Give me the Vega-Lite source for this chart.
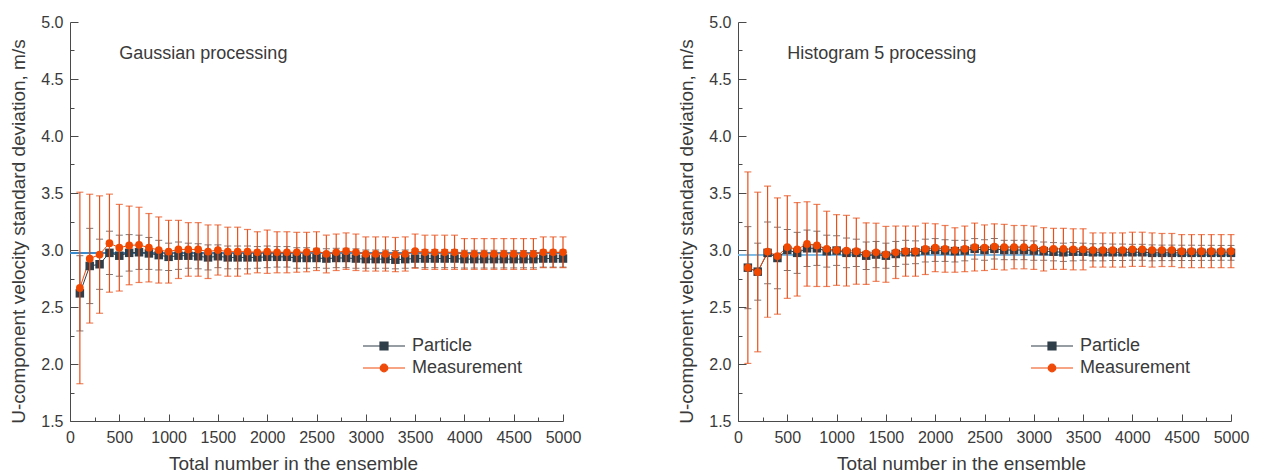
{
  "$schema": "https://vega.github.io/schema/vega-lite/v6.json",
  "background": "white",
  "padding": {"left": 9, "top": 14, "right": 5, "bottom": 0},
  "config": {
    "view": {"stroke": null},
    "font": "Liberation Sans",
    "axis": {
      "labelFont": "Liberation Sans", "titleFont": "Liberation Sans",
      "labelFontSize": 16, "titleFontSize": 19, "titleFontWeight": "normal",
      "labelColor": "#3a3a3a", "titleColor": "#3a3a3a",
      "domainColor": "#4a4a4a", "tickColor": "#4a4a4a", "grid": false,
      "labelFlush": false, "labelOverlap": false
    }
  },
  "data": {"values": [
    {"p":"G","s":"Particle","n":100,"v":2.62,"e":0.33},
    {"p":"G","s":"Particle","n":200,"v":2.86,"e":0.33},
    {"p":"G","s":"Particle","n":300,"v":2.875,"e":0.22},
    {"p":"G","s":"Particle","n":400,"v":2.975,"e":0.19},
    {"p":"G","s":"Particle","n":500,"v":2.95,"e":0.18},
    {"p":"G","s":"Particle","n":600,"v":2.975,"e":0.16},
    {"p":"G","s":"Particle","n":700,"v":2.98,"e":0.15},
    {"p":"G","s":"Particle","n":800,"v":2.97,"e":0.14},
    {"p":"G","s":"Particle","n":900,"v":2.955,"e":0.13},
    {"p":"G","s":"Particle","n":1000,"v":2.94,"e":0.12},
    {"p":"G","s":"Particle","n":1100,"v":2.95,"e":0.12},
    {"p":"G","s":"Particle","n":1200,"v":2.95,"e":0.11},
    {"p":"G","s":"Particle","n":1300,"v":2.945,"e":0.11},
    {"p":"G","s":"Particle","n":1400,"v":2.935,"e":0.11},
    {"p":"G","s":"Particle","n":1500,"v":2.945,"e":0.1},
    {"p":"G","s":"Particle","n":1600,"v":2.935,"e":0.1},
    {"p":"G","s":"Particle","n":1700,"v":2.935,"e":0.1},
    {"p":"G","s":"Particle","n":1800,"v":2.935,"e":0.1},
    {"p":"G","s":"Particle","n":1900,"v":2.935,"e":0.095},
    {"p":"G","s":"Particle","n":2000,"v":2.94,"e":0.095},
    {"p":"G","s":"Particle","n":2100,"v":2.94,"e":0.09},
    {"p":"G","s":"Particle","n":2200,"v":2.94,"e":0.09},
    {"p":"G","s":"Particle","n":2300,"v":2.93,"e":0.09},
    {"p":"G","s":"Particle","n":2400,"v":2.93,"e":0.09},
    {"p":"G","s":"Particle","n":2500,"v":2.93,"e":0.085},
    {"p":"G","s":"Particle","n":2600,"v":2.925,"e":0.085},
    {"p":"G","s":"Particle","n":2700,"v":2.93,"e":0.085},
    {"p":"G","s":"Particle","n":2800,"v":2.93,"e":0.085},
    {"p":"G","s":"Particle","n":2900,"v":2.925,"e":0.085},
    {"p":"G","s":"Particle","n":3000,"v":2.92,"e":0.08},
    {"p":"G","s":"Particle","n":3100,"v":2.92,"e":0.08},
    {"p":"G","s":"Particle","n":3200,"v":2.92,"e":0.08},
    {"p":"G","s":"Particle","n":3300,"v":2.915,"e":0.08},
    {"p":"G","s":"Particle","n":3400,"v":2.92,"e":0.08},
    {"p":"G","s":"Particle","n":3500,"v":2.925,"e":0.08},
    {"p":"G","s":"Particle","n":3600,"v":2.925,"e":0.08},
    {"p":"G","s":"Particle","n":3700,"v":2.925,"e":0.08},
    {"p":"G","s":"Particle","n":3800,"v":2.925,"e":0.08},
    {"p":"G","s":"Particle","n":3900,"v":2.925,"e":0.08},
    {"p":"G","s":"Particle","n":4000,"v":2.92,"e":0.078},
    {"p":"G","s":"Particle","n":4100,"v":2.92,"e":0.078},
    {"p":"G","s":"Particle","n":4200,"v":2.92,"e":0.078},
    {"p":"G","s":"Particle","n":4300,"v":2.92,"e":0.078},
    {"p":"G","s":"Particle","n":4400,"v":2.92,"e":0.077},
    {"p":"G","s":"Particle","n":4500,"v":2.92,"e":0.077},
    {"p":"G","s":"Particle","n":4600,"v":2.92,"e":0.076},
    {"p":"G","s":"Particle","n":4700,"v":2.92,"e":0.076},
    {"p":"G","s":"Particle","n":4800,"v":2.925,"e":0.075},
    {"p":"G","s":"Particle","n":4900,"v":2.925,"e":0.075},
    {"p":"G","s":"Particle","n":5000,"v":2.925,"e":0.075},

    {"p":"G","s":"Measurement","n":100,"v":2.667,"e":0.84},
    {"p":"G","s":"Measurement","n":200,"v":2.924,"e":0.565},
    {"p":"G","s":"Measurement","n":300,"v":2.96,"e":0.515},
    {"p":"G","s":"Measurement","n":400,"v":3.06,"e":0.43},
    {"p":"G","s":"Measurement","n":500,"v":3.02,"e":0.38},
    {"p":"G","s":"Measurement","n":600,"v":3.04,"e":0.345},
    {"p":"G","s":"Measurement","n":700,"v":3.045,"e":0.33},
    {"p":"G","s":"Measurement","n":800,"v":3.02,"e":0.3},
    {"p":"G","s":"Measurement","n":900,"v":3.0,"e":0.29},
    {"p":"G","s":"Measurement","n":1000,"v":2.985,"e":0.275},
    {"p":"G","s":"Measurement","n":1100,"v":3.005,"e":0.255},
    {"p":"G","s":"Measurement","n":1200,"v":3.005,"e":0.235},
    {"p":"G","s":"Measurement","n":1300,"v":3.005,"e":0.235},
    {"p":"G","s":"Measurement","n":1400,"v":2.985,"e":0.235},
    {"p":"G","s":"Measurement","n":1500,"v":3.0,"e":0.22},
    {"p":"G","s":"Measurement","n":1600,"v":2.985,"e":0.215},
    {"p":"G","s":"Measurement","n":1700,"v":2.985,"e":0.215},
    {"p":"G","s":"Measurement","n":1800,"v":2.985,"e":0.195},
    {"p":"G","s":"Measurement","n":1900,"v":2.98,"e":0.18},
    {"p":"G","s":"Measurement","n":2000,"v":2.985,"e":0.19},
    {"p":"G","s":"Measurement","n":2100,"v":2.98,"e":0.18},
    {"p":"G","s":"Measurement","n":2200,"v":2.98,"e":0.18},
    {"p":"G","s":"Measurement","n":2300,"v":2.98,"e":0.175},
    {"p":"G","s":"Measurement","n":2400,"v":2.982,"e":0.173},
    {"p":"G","s":"Measurement","n":2500,"v":2.99,"e":0.17},
    {"p":"G","s":"Measurement","n":2600,"v":2.965,"e":0.165},
    {"p":"G","s":"Measurement","n":2700,"v":2.98,"e":0.16},
    {"p":"G","s":"Measurement","n":2800,"v":2.99,"e":0.16},
    {"p":"G","s":"Measurement","n":2900,"v":2.98,"e":0.16},
    {"p":"G","s":"Measurement","n":3000,"v":2.965,"e":0.15},
    {"p":"G","s":"Measurement","n":3100,"v":2.965,"e":0.15},
    {"p":"G","s":"Measurement","n":3200,"v":2.965,"e":0.15},
    {"p":"G","s":"Measurement","n":3300,"v":2.96,"e":0.15},
    {"p":"G","s":"Measurement","n":3400,"v":2.965,"e":0.15},
    {"p":"G","s":"Measurement","n":3500,"v":2.99,"e":0.15},
    {"p":"G","s":"Measurement","n":3600,"v":2.98,"e":0.15},
    {"p":"G","s":"Measurement","n":3700,"v":2.98,"e":0.15},
    {"p":"G","s":"Measurement","n":3800,"v":2.98,"e":0.15},
    {"p":"G","s":"Measurement","n":3900,"v":2.98,"e":0.15},
    {"p":"G","s":"Measurement","n":4000,"v":2.965,"e":0.135},
    {"p":"G","s":"Measurement","n":4100,"v":2.965,"e":0.135},
    {"p":"G","s":"Measurement","n":4200,"v":2.965,"e":0.135},
    {"p":"G","s":"Measurement","n":4300,"v":2.965,"e":0.135},
    {"p":"G","s":"Measurement","n":4400,"v":2.965,"e":0.135},
    {"p":"G","s":"Measurement","n":4500,"v":2.965,"e":0.135},
    {"p":"G","s":"Measurement","n":4600,"v":2.965,"e":0.135},
    {"p":"G","s":"Measurement","n":4700,"v":2.965,"e":0.135},
    {"p":"G","s":"Measurement","n":4800,"v":2.98,"e":0.135},
    {"p":"G","s":"Measurement","n":4900,"v":2.98,"e":0.135},
    {"p":"G","s":"Measurement","n":5000,"v":2.98,"e":0.135},

    {"p":"H","s":"Particle","n":100,"v":2.845,"e":0.36},
    {"p":"H","s":"Particle","n":200,"v":2.81,"e":0.25},
    {"p":"H","s":"Particle","n":300,"v":2.975,"e":0.27},
    {"p":"H","s":"Particle","n":400,"v":2.93,"e":0.27},
    {"p":"H","s":"Particle","n":500,"v":3.0,"e":0.18},
    {"p":"H","s":"Particle","n":600,"v":2.975,"e":0.18},
    {"p":"H","s":"Particle","n":700,"v":3.015,"e":0.16},
    {"p":"H","s":"Particle","n":800,"v":3.015,"e":0.15},
    {"p":"H","s":"Particle","n":900,"v":2.99,"e":0.14},
    {"p":"H","s":"Particle","n":1000,"v":2.995,"e":0.13},
    {"p":"H","s":"Particle","n":1100,"v":2.975,"e":0.13},
    {"p":"H","s":"Particle","n":1200,"v":2.975,"e":0.12},
    {"p":"H","s":"Particle","n":1300,"v":2.95,"e":0.12},
    {"p":"H","s":"Particle","n":1400,"v":2.96,"e":0.115},
    {"p":"H","s":"Particle","n":1500,"v":2.95,"e":0.11},
    {"p":"H","s":"Particle","n":1600,"v":2.965,"e":0.11},
    {"p":"H","s":"Particle","n":1700,"v":2.98,"e":0.105},
    {"p":"H","s":"Particle","n":1800,"v":2.98,"e":0.1},
    {"p":"H","s":"Particle","n":1900,"v":2.995,"e":0.1},
    {"p":"H","s":"Particle","n":2000,"v":3.0,"e":0.1},
    {"p":"H","s":"Particle","n":2100,"v":2.995,"e":0.095},
    {"p":"H","s":"Particle","n":2200,"v":2.99,"e":0.095},
    {"p":"H","s":"Particle","n":2300,"v":2.995,"e":0.09},
    {"p":"H","s":"Particle","n":2400,"v":3.01,"e":0.09},
    {"p":"H","s":"Particle","n":2500,"v":3.0,"e":0.09},
    {"p":"H","s":"Particle","n":2600,"v":3.01,"e":0.09},
    {"p":"H","s":"Particle","n":2700,"v":3.0,"e":0.085},
    {"p":"H","s":"Particle","n":2800,"v":3.0,"e":0.085},
    {"p":"H","s":"Particle","n":2900,"v":3.0,"e":0.085},
    {"p":"H","s":"Particle","n":3000,"v":2.995,"e":0.085},
    {"p":"H","s":"Particle","n":3100,"v":2.99,"e":0.08},
    {"p":"H","s":"Particle","n":3200,"v":2.985,"e":0.08},
    {"p":"H","s":"Particle","n":3300,"v":2.98,"e":0.08},
    {"p":"H","s":"Particle","n":3400,"v":2.985,"e":0.08},
    {"p":"H","s":"Particle","n":3500,"v":2.985,"e":0.075},
    {"p":"H","s":"Particle","n":3600,"v":2.98,"e":0.075},
    {"p":"H","s":"Particle","n":3700,"v":2.98,"e":0.075},
    {"p":"H","s":"Particle","n":3800,"v":2.98,"e":0.072},
    {"p":"H","s":"Particle","n":3900,"v":2.98,"e":0.072},
    {"p":"H","s":"Particle","n":4000,"v":2.98,"e":0.07},
    {"p":"H","s":"Particle","n":4100,"v":2.98,"e":0.07},
    {"p":"H","s":"Particle","n":4200,"v":2.975,"e":0.07},
    {"p":"H","s":"Particle","n":4300,"v":2.975,"e":0.068},
    {"p":"H","s":"Particle","n":4400,"v":2.975,"e":0.068},
    {"p":"H","s":"Particle","n":4500,"v":2.975,"e":0.067},
    {"p":"H","s":"Particle","n":4600,"v":2.975,"e":0.067},
    {"p":"H","s":"Particle","n":4700,"v":2.975,"e":0.066},
    {"p":"H","s":"Particle","n":4800,"v":2.975,"e":0.066},
    {"p":"H","s":"Particle","n":4900,"v":2.975,"e":0.065},
    {"p":"H","s":"Particle","n":5000,"v":2.975,"e":0.065},

    {"p":"H","s":"Measurement","n":100,"v":2.845,"e":0.84},
    {"p":"H","s":"Measurement","n":200,"v":2.807,"e":0.7},
    {"p":"H","s":"Measurement","n":300,"v":2.985,"e":0.575},
    {"p":"H","s":"Measurement","n":400,"v":2.947,"e":0.51},
    {"p":"H","s":"Measurement","n":500,"v":3.026,"e":0.45},
    {"p":"H","s":"Measurement","n":600,"v":3.006,"e":0.41},
    {"p":"H","s":"Measurement","n":700,"v":3.053,"e":0.37},
    {"p":"H","s":"Measurement","n":800,"v":3.04,"e":0.36},
    {"p":"H","s":"Measurement","n":900,"v":3.01,"e":0.33},
    {"p":"H","s":"Measurement","n":1000,"v":3.0,"e":0.31},
    {"p":"H","s":"Measurement","n":1100,"v":2.994,"e":0.31},
    {"p":"H","s":"Measurement","n":1200,"v":2.99,"e":0.29},
    {"p":"H","s":"Measurement","n":1300,"v":2.968,"e":0.27},
    {"p":"H","s":"Measurement","n":1400,"v":2.98,"e":0.255},
    {"p":"H","s":"Measurement","n":1500,"v":2.962,"e":0.245},
    {"p":"H","s":"Measurement","n":1600,"v":2.98,"e":0.23},
    {"p":"H","s":"Measurement","n":1700,"v":2.99,"e":0.22},
    {"p":"H","s":"Measurement","n":1800,"v":2.99,"e":0.22},
    {"p":"H","s":"Measurement","n":1900,"v":3.01,"e":0.225},
    {"p":"H","s":"Measurement","n":2000,"v":3.02,"e":0.21},
    {"p":"H","s":"Measurement","n":2100,"v":3.01,"e":0.205},
    {"p":"H","s":"Measurement","n":2200,"v":3.0,"e":0.195},
    {"p":"H","s":"Measurement","n":2300,"v":3.01,"e":0.2},
    {"p":"H","s":"Measurement","n":2400,"v":3.026,"e":0.21},
    {"p":"H","s":"Measurement","n":2500,"v":3.02,"e":0.2},
    {"p":"H","s":"Measurement","n":2600,"v":3.03,"e":0.2},
    {"p":"H","s":"Measurement","n":2700,"v":3.025,"e":0.2},
    {"p":"H","s":"Measurement","n":2800,"v":3.025,"e":0.19},
    {"p":"H","s":"Measurement","n":2900,"v":3.025,"e":0.19},
    {"p":"H","s":"Measurement","n":3000,"v":3.02,"e":0.19},
    {"p":"H","s":"Measurement","n":3100,"v":3.006,"e":0.19},
    {"p":"H","s":"Measurement","n":3200,"v":3.01,"e":0.18},
    {"p":"H","s":"Measurement","n":3300,"v":3.01,"e":0.18},
    {"p":"H","s":"Measurement","n":3400,"v":3.006,"e":0.18},
    {"p":"H","s":"Measurement","n":3500,"v":3.006,"e":0.18},
    {"p":"H","s":"Measurement","n":3600,"v":3.0,"e":0.15},
    {"p":"H","s":"Measurement","n":3700,"v":3.0,"e":0.15},
    {"p":"H","s":"Measurement","n":3800,"v":3.0,"e":0.15},
    {"p":"H","s":"Measurement","n":3900,"v":3.0,"e":0.15},
    {"p":"H","s":"Measurement","n":4000,"v":3.006,"e":0.15},
    {"p":"H","s":"Measurement","n":4100,"v":3.006,"e":0.15},
    {"p":"H","s":"Measurement","n":4200,"v":3.0,"e":0.15},
    {"p":"H","s":"Measurement","n":4300,"v":3.0,"e":0.145},
    {"p":"H","s":"Measurement","n":4400,"v":3.0,"e":0.145},
    {"p":"H","s":"Measurement","n":4500,"v":2.99,"e":0.145},
    {"p":"H","s":"Measurement","n":4600,"v":2.99,"e":0.145},
    {"p":"H","s":"Measurement","n":4700,"v":2.99,"e":0.145},
    {"p":"H","s":"Measurement","n":4800,"v":2.99,"e":0.145},
    {"p":"H","s":"Measurement","n":4900,"v":2.99,"e":0.145},
    {"p":"H","s":"Measurement","n":5000,"v":2.99,"e":0.145}
  ]},
  "spacing": 96,
  "resolve": {"scale": {"color": "independent"}, "legend": {"color": "independent"}},
  "hconcat": [
    {
      "width": 493, "height": 399,
      "transform": [{"filter": "datum.p === 'G'"}],
      "resolve": {"axis": {"x": "independent", "y": "independent"}},
      "layer": [
        {"mark": {"type": "rule", "color": "#3a8ccf", "strokeWidth": 1},
         "encoding": {"y": {"datum": 2.975, "type": "quantitative", "scale": {"domain": [1.5, 5], "nice": false}, "axis": null}}},
        {"mark": {"type": "point", "opacity": 0},
         "encoding": {
           "x": {"field": "n", "type": "quantitative", "scale": {"domain": [0, 5000], "nice": false},
                 "axis": {"orient": "bottom", "values": [250,750,1250,1750,2250,2750,3250,3750,4250,4750], "labels": false, "domain": false, "tickSize": -4, "title": null}},
           "y": {"field": "v", "type": "quantitative", "scale": {"domain": [1.5, 5], "nice": false},
                 "axis": {"orient": "left", "values": [1.75,2.25,2.75,3.25,3.75,4.25,4.75], "labels": false, "domain": false, "tickSize": -4, "title": null}}
         }},
        {"transform": [{"filter": "datum.s === 'Particle'"}],
         "mark": {"type": "errorbar", "ticks": {"size": 7}, "color": "#3d3d3d", "thickness": 1},
         "encoding": {
           "x": {"field": "n", "type": "quantitative", "axis": null},
           "y": {"field": "v", "type": "quantitative", "axis": null},
           "yError": {"field": "e"}
         }},
        {"mark": {"type": "line", "strokeWidth": 1},
         "encoding": {
           "x": {"field": "n", "type": "quantitative",
                 "axis": {"orient": "bottom", "values": [0,500,1000,1500,2000,2500,3000,3500,4000,4500,5000], "format": "d", "tickSize": -7, "labelPadding": 15, "title": "Total number in the ensemble", "titlePadding": 9, "titleX": 223}},
           "y": {"field": "v", "type": "quantitative",
                 "axis": {"orient": "left", "values": [1.5,2,2.5,3,3.5,4,4.5,5], "format": ".1f", "tickSize": -8, "labelPadding": 15, "title": "U-component velocity standard deviation, m/s", "titlePadding": 12, "titleY": 209}},
           "color": {"field": "s", "type": "nominal",
                     "scale": {"domain": ["Particle", "Measurement"], "range": ["#2f3e48", "#ee4a0a"]},
                     "legend": {"title": null, "orient": "none", "legendX": 303, "legendY": 313, "padding": 0,
                                "symbolSize": 400, "symbolStrokeWidth": 1.2, "labelFontSize": 18, "labelFont": "Liberation Sans",
                                "labelColor": "#3a3a3a", "labelOffset": 17, "rowPadding": 2,
                                "encode": {"symbols": {"update": {
                                  "shape": {"signal": "datum.value === 'Particle' ? 'M-2.1,0H2.1M-0.4,-0.4H0.4V0.4H-0.4Z' : 'M-2.1,0H2.1M0.38,0A0.38,0.38,0,1,1,-0.38,0A0.38,0.38,0,1,1,0.38,0Z'"},
                                  "fill": {"signal": "datum.value === 'Particle' ? '#2f3e48' : '#ee4a0a'"},
                                  "stroke": {"signal": "datum.value === 'Particle' ? '#2f3e48' : '#ee4a0a'"},
                                  "opacity": {"value": 1}, "fillOpacity": {"value": 1}}}}}}
         }},
        {"transform": [{"filter": "datum.s === 'Particle'"}],
         "mark": {"type": "point", "shape": "square", "filled": true, "size": 72, "color": "#2f3e48", "opacity": 1},
         "encoding": {
           "x": {"field": "n", "type": "quantitative", "axis": null},
           "y": {"field": "v", "type": "quantitative", "axis": null}
         }},
        {"transform": [{"filter": "datum.s === 'Measurement'"}],
         "mark": {"type": "errorbar", "ticks": {"size": 7}, "color": "#e8501a", "thickness": 1.2},
         "encoding": {
           "x": {"field": "n", "type": "quantitative", "axis": null},
           "y": {"field": "v", "type": "quantitative", "axis": null},
           "yError": {"field": "e"}
         }},
        {"transform": [{"filter": "datum.s === 'Measurement'"}],
         "mark": {"type": "point", "shape": "circle", "filled": true, "size": 60, "color": "#f04800", "opacity": 1},
         "encoding": {
           "x": {"field": "n", "type": "quantitative", "axis": null},
           "y": {"field": "v", "type": "quantitative", "axis": null}
         }},
        {"data": {"values": [{}]},
         "mark": {"type": "text", "text": "Gaussian processing", "align": "left", "baseline": "middle", "fontSize": 18, "font": "Liberation Sans", "color": "#3a3a3a"},
         "encoding": {
           "x": {"datum": 500, "type": "quantitative", "axis": null},
           "y": {"datum": 4.72, "type": "quantitative", "axis": null}
         }}
      ]
    },
    {
      "width": 493, "height": 399,
      "transform": [{"filter": "datum.p === 'H'"}],
      "resolve": {"axis": {"x": "independent", "y": "independent"}},
      "layer": [
        {"mark": {"type": "rule", "color": "#7db8e2", "strokeWidth": 1},
         "encoding": {"y": {"datum": 2.96, "type": "quantitative", "scale": {"domain": [1.5, 5], "nice": false}, "axis": null}}},
        {"mark": {"type": "point", "opacity": 0},
         "encoding": {
           "x": {"field": "n", "type": "quantitative", "scale": {"domain": [0, 5000], "nice": false},
                 "axis": {"orient": "bottom", "values": [250,750,1250,1750,2250,2750,3250,3750,4250,4750], "labels": false, "domain": false, "tickSize": -4, "title": null}},
           "y": {"field": "v", "type": "quantitative", "scale": {"domain": [1.5, 5], "nice": false},
                 "axis": {"orient": "left", "values": [1.75,2.25,2.75,3.25,3.75,4.25,4.75], "labels": false, "domain": false, "tickSize": -4, "title": null}}
         }},
        {"transform": [{"filter": "datum.s === 'Particle'"}],
         "mark": {"type": "errorbar", "ticks": {"size": 7}, "color": "#3d3d3d", "thickness": 1},
         "encoding": {
           "x": {"field": "n", "type": "quantitative", "axis": null},
           "y": {"field": "v", "type": "quantitative", "axis": null},
           "yError": {"field": "e"}
         }},
        {"mark": {"type": "line", "strokeWidth": 1},
         "encoding": {
           "x": {"field": "n", "type": "quantitative",
                 "axis": {"orient": "bottom", "values": [0,500,1000,1500,2000,2500,3000,3500,4000,4500,5000], "format": "d", "tickSize": -7, "labelPadding": 15, "title": "Total number in the ensemble", "titlePadding": 9, "titleX": 223}},
           "y": {"field": "v", "type": "quantitative",
                 "axis": {"orient": "left", "values": [1.5,2,2.5,3,3.5,4,4.5,5], "format": ".1f", "tickSize": -8, "labelPadding": 15, "title": "U-component velocity standard deviation, m/s", "titlePadding": 12, "titleY": 209}},
           "color": {"field": "s", "type": "nominal",
                     "scale": {"domain": ["Particle", "Measurement"], "range": ["#2f3e48", "#ee4a0a"]},
                     "legend": {"title": null, "orient": "none", "legendX": 303, "legendY": 313, "padding": 0,
                                "symbolSize": 400, "symbolStrokeWidth": 1.2, "labelFontSize": 18, "labelFont": "Liberation Sans",
                                "labelColor": "#3a3a3a", "labelOffset": 17, "rowPadding": 2,
                                "encode": {"symbols": {"update": {
                                  "shape": {"signal": "datum.value === 'Particle' ? 'M-2.1,0H2.1M-0.4,-0.4H0.4V0.4H-0.4Z' : 'M-2.1,0H2.1M0.38,0A0.38,0.38,0,1,1,-0.38,0A0.38,0.38,0,1,1,0.38,0Z'"},
                                  "fill": {"signal": "datum.value === 'Particle' ? '#2f3e48' : '#ee4a0a'"},
                                  "stroke": {"signal": "datum.value === 'Particle' ? '#2f3e48' : '#ee4a0a'"},
                                  "opacity": {"value": 1}, "fillOpacity": {"value": 1}}}}}}
         }},
        {"transform": [{"filter": "datum.s === 'Particle'"}],
         "mark": {"type": "point", "shape": "square", "filled": true, "size": 72, "color": "#2f3e48", "opacity": 1},
         "encoding": {
           "x": {"field": "n", "type": "quantitative", "axis": null},
           "y": {"field": "v", "type": "quantitative", "axis": null}
         }},
        {"transform": [{"filter": "datum.s === 'Measurement'"}],
         "mark": {"type": "errorbar", "ticks": {"size": 7}, "color": "#e8501a", "thickness": 1.2},
         "encoding": {
           "x": {"field": "n", "type": "quantitative", "axis": null},
           "y": {"field": "v", "type": "quantitative", "axis": null},
           "yError": {"field": "e"}
         }},
        {"transform": [{"filter": "datum.s === 'Measurement'"}],
         "mark": {"type": "point", "shape": "circle", "filled": true, "size": 60, "color": "#f04800", "opacity": 1},
         "encoding": {
           "x": {"field": "n", "type": "quantitative", "axis": null},
           "y": {"field": "v", "type": "quantitative", "axis": null}
         }},
        {"data": {"values": [{}]},
         "mark": {"type": "text", "text": "Histogram 5 processing", "align": "left", "baseline": "middle", "fontSize": 18, "font": "Liberation Sans", "color": "#3a3a3a"},
         "encoding": {
           "x": {"datum": 500, "type": "quantitative", "axis": null},
           "y": {"datum": 4.72, "type": "quantitative", "axis": null}
         }}
      ]
    }
  ]
}
